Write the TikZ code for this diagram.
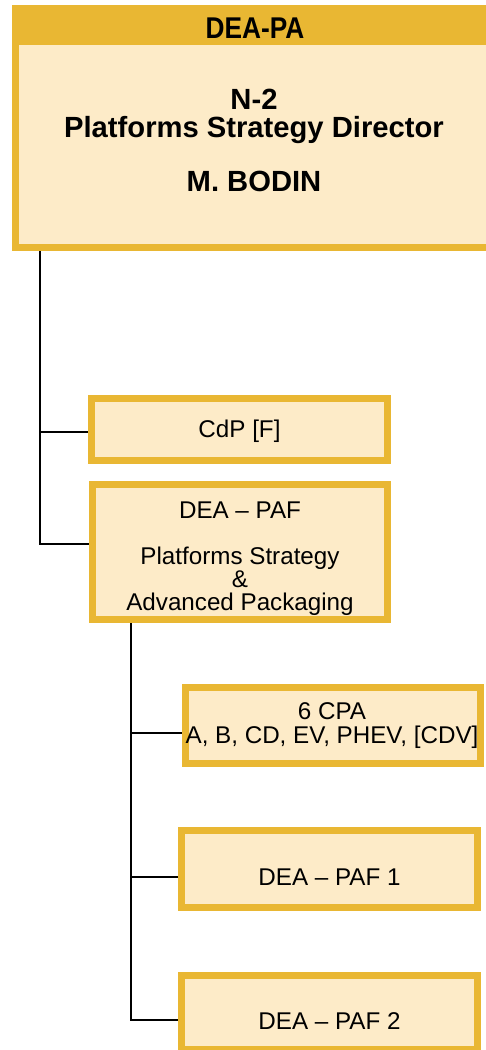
\documentclass[tikz,border=0pt]{standalone}
\usepackage{fontspec}
\setmainfont{Liberation Sans}
\definecolor{bordc}{HTML}{E9B733}
\definecolor{fillc}{HTML}{FDEBC8}
\begin{document}
\begin{tikzpicture}[x=1pt,y=-1pt,
  box/.style={draw=bordc,fill=fillc,line width=7pt,rectangle,inner sep=0pt},
  reg/.style={font=\fontsize{24.2}{24}\selectfont,inner sep=0pt,anchor=base},
  bld/.style={font=\fontsize{29.2}{29}\selectfont\bfseries,inner sep=0pt,anchor=base},
  conn/.style={line width=1.5pt,black}]
\useasboundingbox (0,0) rectangle (485,1050);
% top box
\node[box,minimum width=477pt,minimum height=239pt] (top) at (254,128) {};
\fill[bordc] (12,5) rectangle (496,45);
\node[inner sep=0pt,anchor=base,font=\fontsize{30}{30}\selectfont\bfseries] (hdr) at (255,38) {\scalebox{0.875}[1]{DEA-PA}};
\node[bld] (t1) at (254,109) {N-2};
\node[bld] (t2) at (254,137) {Platforms Strategy Director};
\node[bld] (t3) at (254,191) {M. BODIN};
% level 1 boxes
\node[box,minimum width=296pt,minimum height=62pt] (cdp) at (239.5,429.5) {};
\node[reg] (cdpt) at (239.5,437) {CdP [F]};
\node[box,minimum width=295pt,minimum height=135pt] (paf) at (240,552) {};
\node[reg] (paft1) at (240,518) {DEA -- PAF};
\node[reg] (paft2) at (240,564) {Platforms Strategy};
\node[reg] (paft3) at (240,587) {\&};
\node[reg] (paft4) at (240,610) {Advanced Packaging};
% level 2 boxes
\node[box,minimum width=295pt,minimum height=76pt] (cpa) at (333,725.5) {};
\node[reg] (cpat1) at (332,719) {6 CPA};
\node[reg] (cpat2) at (332,743) {A, B, CD, EV, PHEV, [CDV]};
\node[box,minimum width=296pt,minimum height=77pt] (paf1) at (329.5,869) {};
\node[reg] (paf1t) at (329.5,885) {DEA -- PAF 1};
\node[box,minimum width=296pt,minimum height=74pt] (paf2) at (329.5,1012.5) {};
\node[reg] (paf2t) at (329.5,1029) {DEA -- PAF 2};
% connectors
\coordinate (v1) at (40,544);
\coordinate (c1) at (40,432);
\draw[conn] (top.south -| v1) -- (v1) -- (v1 -| paf.west);
\draw[conn] (c1) -- (c1 -| cdp.west);
\coordinate (v2) at (131,1020);
\coordinate (c2) at (131,733);
\coordinate (c3) at (131,877);
\draw[conn] (paf.south -| v2) -- (v2) -- (v2 -| paf2.west);
\draw[conn] (c2) -- (c2 -| cpa.west);
\draw[conn] (c3) -- (c3 -| paf1.west);
\end{tikzpicture}
\end{document}
